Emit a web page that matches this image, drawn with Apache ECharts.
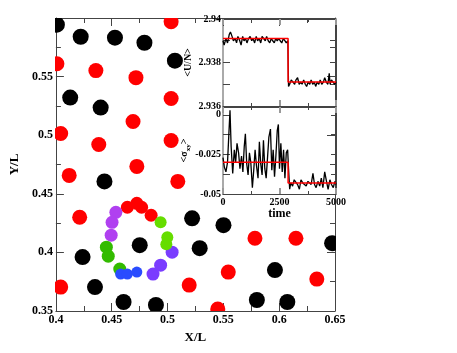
<!DOCTYPE html>
<html lang="en">
  <head>
    <meta charset="UTF-8" />
    <title>blobs + insets</title>
    <script src="https://cdn.jsdelivr.net/npm/echarts@6/dist/echarts.min.js"></script>
    <style>
      html, body { margin: 0; padding: 0; background: #fff; }
      #main { width: 457px; height: 353px; }
    </style>
  </head>
  <body>
    <div id="main"></div>
    <script>
      // particle clusters, [X/L, Y/L]
      var blackBlobs = [
        [0.4009, 0.5943], [0.4222, 0.584], [0.4529, 0.5832], [0.4793, 0.5789],
        [0.5066, 0.5636], [0.4128, 0.5321], [0.4401, 0.5236], [0.4435, 0.4606],
        [0.522, 0.4291], [0.5501, 0.4232], [0.5288, 0.4036], [0.4751, 0.4062],
        [0.4239, 0.396], [0.435, 0.3704], [0.4606, 0.3577], [0.4896, 0.3551],
        [0.6474, 0.4079], [0.5962, 0.3849], [0.58, 0.3594], [0.6073, 0.3577]
      ];
      var redBlobs = [
        [0.5032, 0.5968], [0.4009, 0.561], [0.4358, 0.5551], [0.4717, 0.5491],
        [0.5032, 0.5313], [0.4691, 0.5117], [0.4043, 0.5015], [0.4384, 0.4921],
        [0.5032, 0.4955], [0.4725, 0.4734], [0.4119, 0.4657], [0.5092, 0.4606],
        [0.4213, 0.43], [0.4043, 0.3704], [0.5194, 0.3721], [0.5544, 0.3832],
        [0.545, 0.3517], [0.5783, 0.4121], [0.615, 0.4121], [0.6337, 0.3772]
      ];
      // ring around the central particle
      var ringRed = [[0.464, 0.4385], [0.4725, 0.4419], [0.4768, 0.4385], [0.4853, 0.4317]];
      var ringMagenta = [[0.4537, 0.4342], [0.4503, 0.4257], [0.4495, 0.4147]];
      var ringGreen = [[0.4452, 0.4045], [0.4469, 0.3968], [0.4572, 0.3858]];
      var ringBlue = [[0.458, 0.3815], [0.464, 0.3815], [0.4725, 0.3832]];
      var ringViolet = [[0.487, 0.3815], [0.4938, 0.3891], [0.5041, 0.4002]];
      var ringLime = [[0.4938, 0.4257], [0.4998, 0.413], [0.4989, 0.407]];

      // inset 1: <U/N> vs time
      var energy = [
        [0, 2.939], [50, 2.9388], [130, 2.9391], [200, 2.9389], [280, 2.9393], [330, 2.9394],
        [400, 2.9392], [460, 2.939], [540, 2.9391], [600, 2.9389], [660, 2.9392], [740, 2.939],
        [800, 2.9388], [870, 2.9392], [930, 2.939], [1000, 2.9391], [1060, 2.9389], [1130, 2.9391],
        [1200, 2.9392], [1270, 2.939], [1330, 2.9391], [1400, 2.9389], [1470, 2.9392], [1530, 2.939],
        [1600, 2.9391], [1670, 2.9389], [1730, 2.9392], [1800, 2.9391], [1870, 2.939], [1930, 2.9392],
        [2000, 2.939], [2070, 2.9389], [2130, 2.9391], [2200, 2.939], [2270, 2.9389], [2330, 2.9391],
        [2400, 2.939], [2470, 2.9391], [2530, 2.939], [2600, 2.9389], [2670, 2.9391], [2740, 2.939],
        [2800, 2.9389], [2870, 2.939], [2900, 2.9369], [2950, 2.937], [3020, 2.9372], [3100, 2.9371],
        [3170, 2.937], [3230, 2.9372], [3300, 2.9373], [3370, 2.937], [3440, 2.9371], [3500, 2.937],
        [3570, 2.9372], [3640, 2.937], [3700, 2.9369], [3770, 2.9371], [3840, 2.937], [3900, 2.9372],
        [3970, 2.937], [4040, 2.9371], [4100, 2.9369], [4170, 2.9371], [4240, 2.937], [4300, 2.9372],
        [4370, 2.937], [4440, 2.9371], [4500, 2.9373], [4570, 2.9371], [4640, 2.937], [4700, 2.9375],
        [4740, 2.937], [4800, 2.9372], [4870, 2.9371], [4940, 2.937], [5000, 2.9371]
      ];
      var energyMean = [[0, 2.9391], [2880, 2.9391], [2880, 2.9371], [5000, 2.9371]];

      // inset 2: <sigma_xy> vs time
      var stress = [
        [0, -0.027], [60, -0.033], [130, -0.036], [200, -0.03], [260, -0.012], [310, 0.003],
        [360, -0.02], [430, -0.037], [500, -0.022], [560, -0.03], [620, -0.018], [690, -0.024],
        [750, -0.034], [820, -0.026], [880, -0.036], [940, -0.02], [990, -0.012], [1050, -0.031],
        [1110, -0.038], [1170, -0.024], [1230, -0.03], [1300, -0.046], [1360, -0.035], [1420, -0.022],
        [1480, -0.032], [1550, -0.04], [1610, -0.017], [1670, -0.031], [1730, -0.038], [1790, -0.016],
        [1850, -0.034], [1910, -0.04], [1970, -0.027], [2030, -0.014], [2100, -0.009], [2160, -0.035],
        [2220, -0.022], [2280, -0.039], [2340, -0.026], [2400, -0.01], [2450, -0.006], [2500, -0.034],
        [2560, -0.018], [2620, -0.036], [2680, -0.022], [2740, -0.04], [2800, -0.024], [2860, -0.022],
        [2900, -0.034], [2950, -0.047], [3000, -0.043], [3080, -0.045], [3150, -0.041], [3220, -0.04],
        [3300, -0.044], [3380, -0.047], [3450, -0.041], [3530, -0.043], [3600, -0.042], [3680, -0.045],
        [3760, -0.042], [3830, -0.043], [3900, -0.044], [3980, -0.037], [4050, -0.044], [4120, -0.046],
        [4200, -0.042], [4280, -0.045], [4350, -0.04], [4420, -0.046], [4500, -0.036], [4580, -0.042],
        [4650, -0.047], [4730, -0.041], [4800, -0.044], [4880, -0.046], [4950, -0.042], [5000, -0.044]
      ];
      var stressMean = [[0, -0.03], [2880, -0.03], [2880, -0.043], [5000, -0.043]];

      var FONT = "Liberation Serif";
      var AX = "#444";

      function frameAxis(grid, pos, min, max, step, tickLen, extra) {
        var a = {
          gridIndex: grid,
          position: pos,
          type: "value",
          min: min,
          max: max,
          interval: step,
          axisLine: { show: true, onZero: false, lineStyle: { color: AX, width: 1 } },
          axisTick: { show: true, inside: true, length: tickLen, lineStyle: { color: AX } },
          minorTick: { show: true, splitNumber: 2, length: tickLen - 3, lineStyle: { color: AX } },
          axisLabel: { show: false },
          splitLine: { show: false }
        };
        for (var k in extra) a[k] = extra[k];
        return a;
      }

      var labelStyle = { fontFamily: FONT, fontWeight: "bold", color: "#000" };

      // blobs drawn as clipped circles so the ones on the frame get cut
      function blobs(data, color, size) {
        return {
          type: "custom",
          xAxisIndex: 0,
          yAxisIndex: 0,
          clip: true,
          data: data,
          renderItem: function (params, api) {
            var p = api.coord([api.value(0), api.value(1)]);
            return {
              type: "circle",
              shape: { cx: p[0], cy: p[1], r: size / 2 },
              style: { fill: color }
            };
          }
        };
      }

      var myChart = echarts.init(document.getElementById("main"));
      var option = {
        animation: false,
        grid: [
          { left: 42, top: 18, width: 293, height: 293 },
          { left: 223, top: 19, width: 113, height: 87, show: true, backgroundColor: "#fff", borderWidth: 0 },
          { left: 223, top: 107, width: 113, height: 87, show: true, backgroundColor: "#fff", borderWidth: 0 }
        ],
        xAxis: [
          frameAxis(0, "bottom", 0.4, 0.65, 0.05, 8, {
            axisLabel: Object.assign({ show: true, fontSize: 12, margin: 3, formatter: function (v) { return +v.toFixed(2) + ""; } }, labelStyle),
            name: "X/L",
            nameLocation: "middle",
            nameGap: 15,
            nameTextStyle: Object.assign({ fontSize: 13 }, labelStyle)
          }),
          frameAxis(0, "top", 0.4, 0.65, 0.05, 8, {}),
          frameAxis(1, "bottom", 0, 5000, 2500, 6, {
            axisTick: { show: true, inside: true, length: 6, lineStyle: { color: "#999", width: 2 } }
          }),
          frameAxis(1, "top", 0, 5000, 2500, 6, {
            axisTick: { show: true, inside: true, length: 6, lineStyle: { color: "#999", width: 2 } }
          }),
          frameAxis(2, "bottom", 0, 5000, 2500, 6, {
            axisTick: { show: true, inside: true, length: 6, lineStyle: { color: "#999", width: 2 } },
            axisLabel: Object.assign({ show: true, fontSize: 10, margin: 3, formatter: function (v) { return String(v); } }, labelStyle),
            name: "time",
            nameLocation: "middle",
            nameGap: 13,
            nameTextStyle: Object.assign({ fontSize: 12 }, labelStyle)
          }),
          frameAxis(2, "top", 0, 5000, 2500, 6, {
            axisTick: { show: true, inside: true, length: 6, lineStyle: { color: "#999", width: 2 } }
          })
        ],
        yAxis: [
          frameAxis(0, "left", 0.35, 0.6, 0.05, 8, {
            axisLabel: Object.assign({
              show: true, fontSize: 12, margin: 3,
              formatter: function (v) { return v > 0.59 ? "" : +v.toFixed(2) + ""; }
            }, labelStyle),
            name: "Y/L",
            nameLocation: "middle",
            nameRotate: 90,
            nameGap: 27,
            nameTextStyle: Object.assign({ fontSize: 13 }, labelStyle)
          }),
          frameAxis(0, "right", 0.35, 0.6, 0.05, 8, {}),
          frameAxis(1, "left", 2.936, 2.94, 0.002, 7, {
            axisLine: { show: true, onZero: false, lineStyle: { color: "#aaa", width: 2 } },
            minorTick: { show: true, splitNumber: 2, length: 7, lineStyle: { color: AX } },
            axisLabel: Object.assign({
              show: true, fontSize: 10, margin: 2,
              formatter: function (v) { return +v.toFixed(3) + ""; }
            }, labelStyle),
            name: "<U/N>",
            nameLocation: "middle",
            nameRotate: 90,
            nameGap: 30,
            nameTextStyle: Object.assign({ fontSize: 10 }, labelStyle)
          }),
          frameAxis(1, "right", 2.936, 2.94, 0.002, 6, {
            minorTick: { show: true, splitNumber: 2, length: 6, lineStyle: { color: AX } }
          }),
          frameAxis(2, "left", -0.05, 0.005, 0.025, 7, {
            axisLine: { show: true, onZero: false, lineStyle: { color: "#aaa", width: 2 } },
            minorTick: { show: true, splitNumber: 2, length: 7, lineStyle: { color: AX } },
            axisLabel: Object.assign({
              show: true, fontSize: 10, margin: 2, showMaxLabel: false,
              formatter: function (v) { return v > 0.004 ? "" : +v.toFixed(3) + ""; }
            }, labelStyle),
            name: "{a|<σ}{b|xy}{a|>}",
            nameLocation: "middle",
            nameRotate: 90,
            nameGap: 30,
            nameTextStyle: {
              rich: {
                a: Object.assign({ fontSize: 10, lineHeight: 14 }, labelStyle),
                b: Object.assign({ fontSize: 7, lineHeight: 14, verticalAlign: "bottom", padding: [5, 0, 0, 0] }, labelStyle)
              }
            }
          }),
          frameAxis(2, "right", -0.05, 0.005, 0.025, 5, {
            minorTick: { show: true, splitNumber: 2, length: 5, lineStyle: { color: AX } }
          })
        ],
        series: [
          blobs(blackBlobs, "#000", 16),
          blobs(redBlobs, "#ff0000", 15),
          blobs(ringRed, "#ff0000", 13),
          blobs(ringMagenta, "#b040f0", 13),
          blobs(ringGreen, "#33bb00", 13),
          blobs(ringBlue, "#2a4cff", 11),
          blobs(ringViolet, "#7a3cff", 13),
          blobs(ringLime, "#66dd00", 12),
          // insets
          { type: "line", xAxisIndex: 2, yAxisIndex: 2, showSymbol: false, lineStyle: { color: "#000", width: 1.3 }, data: energy },
          { type: "line", xAxisIndex: 2, yAxisIndex: 2, showSymbol: false, lineStyle: { color: "#ff0000", width: 1.5 }, data: energyMean },
          { type: "line", xAxisIndex: 4, yAxisIndex: 4, showSymbol: false, lineStyle: { color: "#000", width: 1.3 }, data: stress },
          { type: "line", xAxisIndex: 4, yAxisIndex: 4, showSymbol: false, lineStyle: { color: "#ff0000", width: 1.5 }, data: stressMean }
        ]
      };
      myChart.setOption(option);
    </script>
  </body>
</html>
